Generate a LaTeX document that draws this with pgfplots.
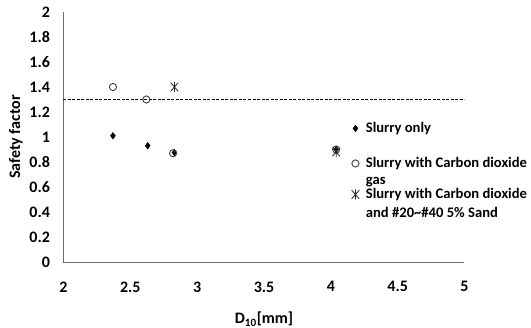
\documentclass[border=0pt]{standalone}
\usepackage{pgfplots}
\pgfplotsset{compat=1.18}
\usepackage{fontspec}
\setmainfont{Carlito}
\newcommand{\lf}{\bfseries\fontsize{16}{18}\selectfont}
\newcommand{\gf}{\bfseries\fontsize{14.6}{17}\selectfont}
\newcommand{\ent}[3]{\rule[-#2]{0pt}{\dimexpr#1+#2\relax}\smash{#3}}
\pgfdeclareplotmark{xbar}{%
  \pgfpathmoveto{\pgfqpoint{0pt}{\pgfplotmarksize}}\pgfpathlineto{\pgfqpoint{0pt}{-\pgfplotmarksize}}%
  \pgfpathmoveto{\pgfqpoint{-0.75\pgfplotmarksize}{0.85\pgfplotmarksize}}\pgfpathlineto{\pgfqpoint{0.75\pgfplotmarksize}{-0.85\pgfplotmarksize}}%
  \pgfpathmoveto{\pgfqpoint{-0.75\pgfplotmarksize}{-0.85\pgfplotmarksize}}\pgfpathlineto{\pgfqpoint{0.75\pgfplotmarksize}{0.85\pgfplotmarksize}}%
  \pgfusepathqstroke}
\begin{document}
\begin{tikzpicture}
\useasboundingbox (-63.5pt,-66pt) rectangle (467.5pt,262pt);
\begin{axis}[
  scale only axis, width=401pt, height=250pt,
  xmin=2, xmax=5, ymin=0, ymax=2,
  xtick={2,2.5,...,5}, ytick={0,0.2,...,2},
  axis lines=left, axis line style={gray!85!black, -, line width=0.9pt},
  major tick length=0pt,
  tick label style={font=\lf},
  /pgf/number format/assume math mode=true,
  xticklabel style={yshift=-16pt},
  yticklabel style={xshift=-10pt},
  xlabel={D\textsubscript{10}[mm]}, ylabel={Safety factor},
  label style={font=\lf},
  xlabel style={yshift=-13pt},
  ylabel style={yshift=0pt},
  legend style={at={(axis description cs:0.712,0.564)}, anchor=north west, draw=none, fill=none,
    inner sep=0pt, outer sep=0pt, row sep=0pt, column sep=0pt,
    font=\gf,
    nodes={text depth=, inner sep=0pt, outer sep=0pt},
    cells={anchor=base west}},
  legend image code/.code={\path (-6pt,0pt) (10pt,0pt); \draw[#1] plot coordinates {(0pt,4.5pt)};},
]
\addplot[only marks, mark=diamond*, mark size=3.3pt, black] coordinates {(2.37,1.01) (2.63,0.93) (2.83,0.875) (4.04,0.90)};
\addlegendentry{\ent{12pt}{20pt}{Slurry only}}
\addplot[only marks, mark=o, mark size=3.6pt, line width=0.9pt, gray!50!black] coordinates {(2.37,1.40) (2.62,1.30) (2.82,0.87) (4.04,0.90)};
\addlegendentry{\ent{15pt}{3pt}{Slurry with Carbon dioxide}}
\addlegendimage{empty legend}
\addlegendentry{\ent{14pt}{0pt}{gas}}
\addplot[only marks, mark=xbar, mark size=5pt, line width=0.8pt, gray!30!black] coordinates {(2.83,1.40) (4.04,0.88)};
\addlegendentry{\ent{14pt}{0pt}{Slurry with Carbon dioxide}}
\addlegendimage{empty legend}
\addlegendentry{\ent{18pt}{5pt}{and \#20\textasciitilde\#40 5\% Sand}}
\addplot[black, dash pattern=on 3pt off 1.5pt, forget plot] coordinates {(2,1.3) (5,1.3)};
\end{axis}
\end{tikzpicture}
\end{document}
